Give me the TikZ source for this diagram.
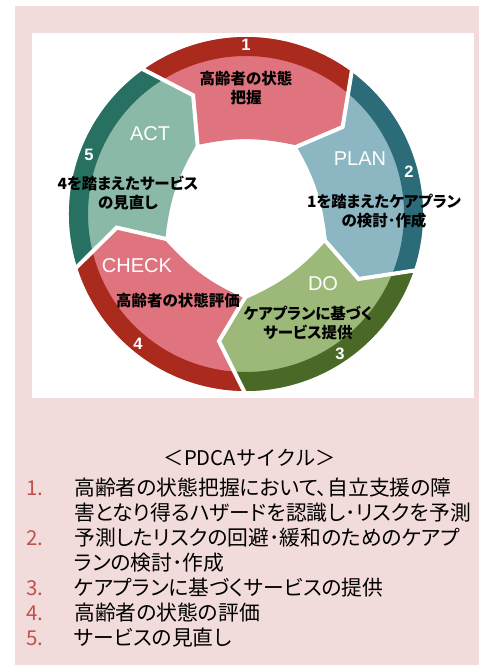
\documentclass[tikz,border=0pt]{standalone}
\usepackage{fontspec}
\setmainfont{Liberation Sans}
\newfontfamily\jpfont{Noto Sans CJK JP}
\newfontfamily\jplabelfont[RawFeature=+palt]{Noto Sans CJK JP}

\begin{document}
\begin{tikzpicture}[x=0.75pt,y=0.75pt,yscale=-1,xscale=1,
  redlite/.style={fill={rgb, 255:red, 224; green, 116; blue, 126 }},
  reddark/.style={fill={rgb, 255:red, 170; green, 42; blue, 30 }},
  planlite/.style={fill={rgb, 255:red, 139; green, 182; blue, 194 }},
  plandark/.style={fill={rgb, 255:red, 44; green, 108; blue, 121 }},
  dolite/.style={fill={rgb, 255:red, 157; green, 185; blue, 121 }},
  dodark/.style={fill={rgb, 255:red, 74; green, 104; blue, 38 }},
  actlite/.style={fill={rgb, 255:red, 138; green, 185; blue, 168 }},
  actdark/.style={fill={rgb, 255:red, 40; green, 112; blue, 97 }},
  gapline/.style={draw=white, line width=3pt, line join=miter},
  stageword/.style={inner sep=0.75pt, text=white, font=\fontsize{15}{18}\selectfont},
  stagenum/.style={inner sep=0.75pt, text=white, font=\fontsize{12.4}{14}\selectfont\bfseries},
  stagetext/.style={anchor=base, inner sep=0.75pt, align=center, font=\jplabelfont\bfseries\fontsize{11.6}{14.25}\selectfont},
  listnum/.style={anchor=base west, inner sep=0.75pt, text={rgb, 255:red, 192; green, 80; blue, 77 }, font=\jpfont\fontsize{15.4}{18.75}\selectfont},
  listtext/.style={anchor=base west, inner sep=0.75pt, align=left, font=\jplabelfont\fontsize{15.6}{18.75}\selectfont}]
\useasboundingbox (0,0) rectangle (479,668);

%Shape: Rectangle [id:bgpink]
\fill [color={rgb, 255:red, 242; green, 220; blue, 219 }] (15,6) rectangle (479,665);
%Shape: Rectangle [id:bgwhite]
\fill [white] (32,33) rectangle (474,398);

\begin{scope}[shift={(246,214)},yscale=-1]
%Shape: Block Arc [id:seg1]
\fill [redlite] (126:177) arc[start angle=126, end angle=54, radius=177] -- (42:130) -- (54:85) to[bend right=12] (126:85) -- (114:130) -- cycle;
\fill [reddark] (126:177) arc[start angle=126, end angle=54, radius=177] -- (50.2:158) arc[start angle=50.2, end angle=122.2, radius=158] -- cycle;
%Shape: Block Arc [id:seg2]
\fill [planlite] (54:177) arc[start angle=54, end angle=-18, radius=177] -- (-30:130) -- (-18:85) to[bend right=12] (54:85) -- (42:130) -- cycle;
\fill [plandark] (54:177) arc[start angle=54, end angle=-18, radius=177] -- (-21.8:158) arc[start angle=-21.8, end angle=50.2, radius=158] -- cycle;
%Shape: Block Arc [id:seg3]
\fill [dolite] (342:177) arc[start angle=342, end angle=270, radius=177] -- (258:130) -- (270:85) to[bend right=12] (342:85) -- (330:130) -- cycle;
\fill [dodark] (342:177) arc[start angle=342, end angle=270, radius=177] -- (266.2:158) arc[start angle=266.2, end angle=338.2, radius=158] -- cycle;
%Shape: Block Arc [id:seg4]
\fill [redlite] (270:177) arc[start angle=270, end angle=198, radius=177] -- (186:130) -- (198:85) to[bend right=12] (270:85) -- (258:130) -- cycle;
\fill [reddark] (270:177) arc[start angle=270, end angle=198, radius=177] -- (194.2:158) arc[start angle=194.2, end angle=266.2, radius=158] -- cycle;
%Shape: Block Arc [id:seg5]
\fill [actlite] (198:177) arc[start angle=198, end angle=126, radius=177] -- (114:130) -- (126:85) to[bend right=12] (198:85) -- (186:130) -- cycle;
\fill [actdark] (198:177) arc[start angle=198, end angle=126, radius=177] -- (122.2:158) arc[start angle=122.2, end angle=194.2, radius=158] -- cycle;

%Straight Lines [id:gaps]
\draw [gapline] (126:181) -- (114:130) -- (126:82);
\draw [gapline] (54:181) -- (42:130) -- (54:82);
\draw [gapline] (-18:181) -- (-30:130) -- (-18:82);
\draw [gapline] (270:181) -- (258:130) -- (270:82);
\draw [gapline] (198:181) -- (186:130) -- (198:82);
\end{scope}

% Text Node
\draw (246,45) node [stagenum] (num1) {1};
% Text Node
\draw (409,172) node [stagenum] (num2) {2};
% Text Node
\draw (340,354) node [stagenum] (num3) {3};
% Text Node
\draw (138,344) node [stagenum] (num4) {4};
% Text Node
\draw (89,155) node [stagenum] (num5) {5};
% Text Node
\draw (360,159) node [stageword] (plan) {PLAN};
% Text Node
\draw (323,284) node [stageword] (do) {DO};
% Text Node
\draw (137,266) node [stageword] (check) {CHECK};
% Text Node
\draw (150,134) node [stageword] (act) {ACT};
% Text Node
\draw (246,103) node [stagetext] (txt1) {高齢者の状態\\把握};
% Text Node
\draw (384,226) node [stagetext] (txt2) {1を踏まえたケアプラン\\の検討･作成};
% Text Node
\draw (308,338) node [stagetext] (txt3) {ケアプランに基づく\\サービス提供};
% Text Node
\draw (178,306) node [stagetext] (txt4) {高齢者の状態評価};
% Text Node
\draw (128,208) node [stagetext] (txt5) {4を踏まえたサービス\\の見直し};

% Text Node
\draw (250,458) node [inner sep=0.75pt, font=\jpfont\fontsize{15.15}{18.75}\selectfont] (title) {＜PDCAサイクル＞};
% Text Node
\draw (25,495) node [listnum] (n1) {1.};
\draw (73,520) node [listtext] (item1) {高齢者の状態把握において、自立支援の障\\害となり得るハザードを認識し･リスクを予測};
% Text Node
\draw (25,545) node [listnum] (n2) {2.};
\draw (73,570) node [listtext] (item2) {予測したリスクの回避･緩和のためのケアプ\\ランの検討･作成};
% Text Node
\draw (25,595) node [listnum] (n3) {3.};
\draw (73,595) node [listtext] (item3) {ケアプランに基づくサービスの提供};
% Text Node
\draw (25,620) node [listnum] (n4) {4.};
\draw (73,620) node [listtext] (item4) {高齢者の状態の評価};
% Text Node
\draw (25,645) node [listnum] (n5) {5.};
\draw (73,645) node [listtext] (item5) {サービスの見直し};

\end{tikzpicture}
\end{document}
